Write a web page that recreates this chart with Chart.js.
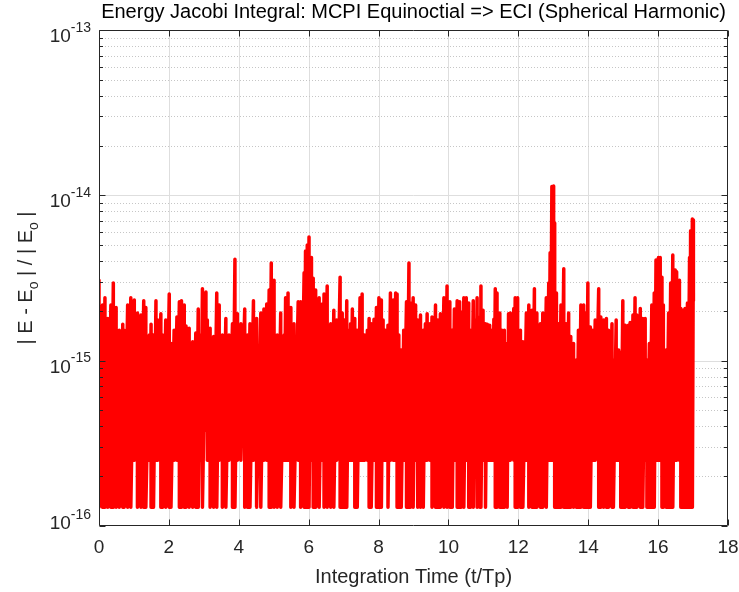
<!DOCTYPE html>
<html><head><meta charset="utf-8">
<script src="https://cdn.jsdelivr.net/npm/chart.js@4/dist/chart.umd.min.js"></script>
<style>html,body{margin:0;padding:0;background:#fff}#wrap{width:739px;height:592px}</style>
</head><body><div id="wrap"><canvas id="c" width="739" height="592"></canvas></div>
<script>
// ---- data ----
const timeTp = [
0.00,0.10,0.17,0.25,0.34,0.41,0.49,0.58,0.68,0.72,
0.82,0.91,1.01,1.10,1.20,1.28,1.34,1.44,1.49,1.56,
1.63,1.68,1.77,1.82,1.91,2.01,2.06,2.15,2.23,2.30,
2.36,2.44,2.49,2.58,2.68,2.77,2.84,2.91,2.96,3.06,
3.10,3.18,3.28,3.37,3.44,3.53,3.63,3.72,3.82,3.89,
3.96,4.06,4.17,4.25,4.32,4.42,4.51,4.63,4.72,4.80,
4.87,4.93,5.01,5.10,5.20,5.30,5.34,5.41,5.49,5.58,
5.70,5.77,5.87,5.91,5.96,6.01,6.08,6.13,6.20,6.30,
6.39,6.44,6.53,6.63,6.72,6.80,6.90,6.96,7.03,7.09,
7.15,7.20,7.25,7.32,7.39,7.47,7.53,7.60,7.68,7.73,
7.79,7.87,7.94,8.01,8.08,8.13,8.20,8.27,8.34,8.42,
8.49,8.53,8.58,8.65,8.72,8.80,8.87,8.91,8.99,9.06,
9.12,9.20,9.28,9.34,9.39,9.47,9.53,9.63,9.70,9.77,
9.87,9.91,9.96,10.04,10.11,10.17,10.25,10.32,10.36,10.44,
10.51,10.58,10.63,10.71,10.77,10.82,10.90,10.93,10.99,11.06,
11.11,11.18,11.25,11.30,11.34,11.39,11.47,11.53,11.60,11.68,
11.72,11.77,11.87,11.91,11.98,12.06,12.13,12.23,12.30,12.39,
12.46,12.53,12.63,12.70,12.80,12.87,12.91,12.96,13.01,13.04,
13.09,13.15,13.22,13.30,13.37,13.44,13.50,13.58,13.66,13.72,
13.79,13.87,13.94,13.99,14.06,14.13,14.20,14.30,14.36,14.44,
14.52,14.58,14.68,14.72,14.80,14.87,14.93,14.99,15.06,15.15,
15.20,15.28,15.34,15.39,15.49,15.56,15.63,15.68,15.75,15.82,
15.89,15.94,16.01,16.06,16.11,16.15,16.23,16.30,16.36,16.42,
16.49,16.53,16.61,16.65,16.70,16.77,16.84,16.90,16.93,16.98,
17.01
];
const peakErr = [
3.07e-15,2.17e-15,2.4e-15,1.8e-15,2.17e-15,2.95e-15,2.1e-15,1.53e-15,1.66e-15,1.53e-15,
2.17e-15,2.4e-15,2.33e-15,1.94e-15,1.89e-15,2.3e-15,2.1e-15,1.43e-15,1.66e-15,1.43e-15,
2.3e-15,1.76e-15,1.92e-15,1.43e-15,1.76e-15,2.53e-15,1.27e-15,1.53e-15,1.84e-15,2.27e-15,
2.3e-15,2.17e-15,1.62e-15,1.57e-15,1.3e-15,1.47e-15,2.05e-15,1.43e-15,2.72e-15,2.6e-15,
1.76e-15,1.57e-15,1.4e-15,2.57e-15,2.17e-15,1.43e-15,1.8e-15,1.43e-15,1.67e-15,4.1e-15,
1.92e-15,1.67e-15,2.05e-15,1.43e-15,1.67e-15,2.3e-15,1.8e-15,1.94e-15,2.05e-15,2.2e-15,
2.68e-15,3.9e-15,3.07e-15,1.43e-15,1.94e-15,1.43e-15,2.4e-15,2.57e-15,2.1e-15,1.67e-15,
2.27e-15,2.27e-15,3.4e-15,4.6e-15,5.0e-15,5.6e-15,4.2e-15,3.15e-15,2.68e-15,2.4e-15,
2.2e-15,2.53e-15,2.83e-15,1.67e-15,2.02e-15,1.76e-15,3.2e-15,1.94e-15,1.76e-15,2.3e-15,
1.53e-15,1.67e-15,2.05e-15,1.8e-15,1.53e-15,2.4e-15,2.53e-15,1.43e-15,1.53e-15,1.8e-15,
1.67e-15,1.78e-15,2.1e-15,2.4e-15,2.33e-15,1.76e-15,1.53e-15,1.64e-15,2.57e-15,2.33e-15,
2.57e-15,2.53e-15,1.43e-15,1.16e-15,1.53e-15,2.27e-15,3.9e-15,2.23e-15,2.4e-15,2.17e-15,
1.76e-15,1.89e-15,1.53e-15,1.67e-15,1.92e-15,1.67e-15,1.84e-15,2.17e-15,1.76e-15,1.92e-15,
2.4e-15,2.33e-15,2.83e-15,2.27e-15,1.53e-15,2.05e-15,2.3e-15,2.27e-15,1.97e-15,2.4e-15,
2.4e-15,2.23e-15,1.53e-15,2.3e-15,1.76e-15,2.4e-15,1.84e-15,2.83e-15,2.02e-15,1.67e-15,
1.66e-15,1.64e-15,1.53e-15,1.78e-15,2.72e-15,2.57e-15,1.94e-15,1.53e-15,1.53e-15,1.27e-15,
1.92e-15,1.94e-15,2.07e-15,2.4e-15,2.4e-15,1.53e-15,1.3e-15,1.94e-15,2.17e-15,2.02e-15,
2.72e-15,1.94e-15,1.67e-15,1.94e-15,2.4e-15,2.95e-15,4.5e-15,1.13e-14,1.14e-14,6.8e-15,
2.57e-15,1.67e-15,2.17e-15,3.6e-15,1.67e-15,1.94e-15,1.4e-15,1.27e-15,1.01e-15,1.53e-15,
2.17e-15,2.17e-15,1.94e-15,2.95e-15,1.6e-15,1.53e-15,1.76e-15,2.72e-15,1.84e-15,1.76e-15,
1.8e-15,1.53e-15,1.67e-15,1.01e-15,1.76e-15,1.16e-15,1.12e-15,2.3e-15,1.64e-15,1.64e-15,
1.7e-15,1.89e-15,2.4e-15,1.89e-15,2.07e-15,1.8e-15,1.8e-15,1.01e-15,1.27e-15,2.17e-15,
2.57e-15,4.06e-15,4.2e-15,4.2e-15,3.2e-15,2.17e-15,1.16e-15,1.94e-15,2.95e-15,4.35e-15,
3.53e-15,3.45e-15,3.07e-15,2.07e-15,2.02e-15,2.07e-15,2.23e-15,4.2e-15,6.1e-15,7.2e-15,
7.1e-15
];
const troughErr = [
1.3e-16,1.3e-16,1.3e-16,1.3e-16,1.3e-16,1.3e-16,1.3e-16,1.3e-16,1.3e-16,1.3e-16,
1.3e-16,1.3e-16,2.5e-16,1.3e-16,1.3e-16,1.3e-16,1.3e-16,2.5e-16,1.3e-16,1.3e-16,
2.5e-16,2.5e-16,1.3e-16,1.3e-16,1.3e-16,1.3e-16,1.3e-16,2.5e-16,2.5e-16,1.3e-16,
1.3e-16,1.3e-16,1.3e-16,1.3e-16,1.3e-16,1.3e-16,1.3e-16,2.5e-16,1.3e-16,3.8e-16,
2.5e-16,1.3e-16,1.3e-16,1.3e-16,2.5e-16,1.3e-16,1.3e-16,2.5e-16,1.3e-16,1.3e-16,
2.5e-16,2.5e-16,1.3e-16,1.3e-16,1.3e-16,2.5e-16,1.3e-16,1.3e-16,2.5e-16,2.5e-16,
1.3e-16,1.3e-16,1.3e-16,1.3e-16,1.3e-16,2.5e-16,2.5e-16,2.5e-16,1.3e-16,1.3e-16,
2.5e-16,1.3e-16,1.3e-16,1.3e-16,1.3e-16,1.3e-16,2.5e-16,1.3e-16,1.3e-16,1.3e-16,
2.5e-16,1.3e-16,1.3e-16,1.3e-16,1.3e-16,2.5e-16,1.3e-16,1.3e-16,1.3e-16,1.3e-16,
2.5e-16,2.5e-16,2.5e-16,1.3e-16,1.3e-16,2.5e-16,2.5e-16,2.5e-16,2.5e-16,1.3e-16,
1.3e-16,2.5e-16,1.3e-16,1.3e-16,1.3e-16,2.5e-16,2.5e-16,1.3e-16,2.5e-16,2.5e-16,
2.5e-16,1.3e-16,1.3e-16,1.3e-16,2.5e-16,1.3e-16,1.3e-16,1.3e-16,1.3e-16,2.5e-16,
1.3e-16,1.3e-16,1.3e-16,2.5e-16,2.5e-16,2.5e-16,1.3e-16,1.3e-16,1.3e-16,1.3e-16,
1.3e-16,2.5e-16,1.3e-16,1.3e-16,1.3e-16,2.5e-16,1.3e-16,1.3e-16,1.3e-16,1.3e-16,
2.5e-16,1.3e-16,1.3e-16,1.3e-16,2.5e-16,1.3e-16,1.3e-16,1.3e-16,2.5e-16,1.3e-16,
2.5e-16,2.5e-16,2.5e-16,2.5e-16,1.3e-16,1.3e-16,1.3e-16,1.3e-16,1.3e-16,1.3e-16,
2.5e-16,2.5e-16,2.5e-16,1.3e-16,1.3e-16,1.3e-16,1.3e-16,2.5e-16,1.3e-16,1.3e-16,
1.3e-16,1.3e-16,1.3e-16,1.3e-16,1.3e-16,2.5e-16,2.5e-16,2.5e-16,2.5e-16,1.3e-16,
1.3e-16,1.3e-16,1.3e-16,1.3e-16,1.3e-16,1.3e-16,1.3e-16,1.3e-16,1.3e-16,1.3e-16,
1.3e-16,1.3e-16,1.3e-16,1.3e-16,1.3e-16,2.5e-16,2.5e-16,1.3e-16,1.3e-16,1.3e-16,
1.3e-16,1.3e-16,1.3e-16,1.3e-16,2.5e-16,2.5e-16,1.3e-16,1.3e-16,1.3e-16,1.3e-16,
1.3e-16,1.3e-16,1.3e-16,1.3e-16,1.3e-16,1.3e-16,2.5e-16,1.3e-16,1.3e-16,1.3e-16,
1.3e-16,2.5e-16,2.5e-16,2.5e-16,1.3e-16,1.3e-16,1.3e-16,1.3e-16,1.3e-16,1.3e-16,
2.5e-16,2.5e-16,2.5e-16,1.3e-16,1.3e-16,1.3e-16,1.3e-16,1.3e-16,1.3e-16,1.3e-16,
2.3e-15
];
const xTickValues = [0, 2, 4, 6, 8, 10, 12, 14, 16, 18];
const yDecadeExponents = [-16, -15, -14, -13];
const yMinorMultipliers = [2, 3, 4, 5, 6, 7, 8, 9];
const chartTitle = 'Energy Jacobi Integral: MCPI Equinoctial => ECI (Spherical Harmonic)';
const xLabel = 'Integration Time (t/Tp)';
const yLabelParts = [['| E - E', false], ['o', true], [' | / | E', false], ['o', true], [' |', false]];

// ---- build the line: each sample goes to its peak and down to its trough ----
const points = [];
for (let i = 0; i < timeTp.length; i++) {
  points.push({x: timeTp[i], y: peakErr[i]});
  points.push({x: timeTp[i], y: troughErr[i]});
}

const ink = '#262626';
const fam = '"Liberation Sans", Arial, Helvetica, sans-serif';

const decor = {
  id: 'decor',
  beforeDatasetsDraw(chart) {
    const {ctx, chartArea: a, scales: {x, y}} = chart;
    ctx.save();
    ctx.lineWidth = 1;
    ctx.strokeStyle = '#dedede';
    ctx.setLineDash([]);
    xTickValues.forEach(v => {
      const px = Math.round(x.getPixelForValue(v)) + 0.5;
      if (px > a.left + 2 && px < a.right - 2) {
        ctx.beginPath(); ctx.moveTo(px, a.top); ctx.lineTo(px, a.bottom); ctx.stroke();
      }
    });
    yDecadeExponents.forEach(e => {
      const py = Math.round(y.getPixelForValue(Math.pow(10, e))) + 0.5;
      if (py > a.top + 2 && py < a.bottom - 2) {
        ctx.beginPath(); ctx.moveTo(a.left, py); ctx.lineTo(a.right, py); ctx.stroke();
      }
    });
    ctx.strokeStyle = '#c6c6c6';
    ctx.setLineDash([1, 2]);
    yDecadeExponents.slice(0, -1).forEach(e => {
      yMinorMultipliers.forEach(m => {
        const py = Math.round(y.getPixelForValue(m * Math.pow(10, e))) + 0.5;
        ctx.beginPath(); ctx.moveTo(a.left, py); ctx.lineTo(a.right, py); ctx.stroke();
      });
    });
    ctx.restore();
  },
  afterDatasetsDraw(chart) {
    const {ctx, chartArea: a, scales: {x, y}} = chart;
    ctx.save();
    ctx.strokeStyle = ink;
    ctx.lineWidth = 1;
    ctx.setLineDash([]);
    const L = a.left + 0.5, R = a.right - 0.5, T = a.top + 0.5, B = a.bottom - 0.5;
    ctx.beginPath();
    ctx.moveTo(L, T); ctx.lineTo(R, T); ctx.lineTo(R, B); ctx.lineTo(L, B); ctx.closePath();
    ctx.stroke();
    xTickValues.forEach(v => {
      const px = Math.round(x.getPixelForValue(v)) + 0.5;
      ctx.beginPath();
      ctx.moveTo(px, B); ctx.lineTo(px, B - 6);
      ctx.moveTo(px, T); ctx.lineTo(px, T + 6);
      ctx.stroke();
    });
    yDecadeExponents.forEach(e => {
      const py = Math.round(y.getPixelForValue(Math.pow(10, e))) + 0.5;
      ctx.beginPath();
      ctx.moveTo(L, py); ctx.lineTo(L + 6, py);
      ctx.moveTo(R, py); ctx.lineTo(R - 6, py);
      ctx.stroke();
    });
    yDecadeExponents.slice(0, -1).forEach(e => {
      yMinorMultipliers.forEach(m => {
        const py = Math.round(y.getPixelForValue(m * Math.pow(10, e))) + 0.5;
        ctx.beginPath();
        ctx.moveTo(L, py); ctx.lineTo(L + 3.5, py);
        ctx.moveTo(R, py); ctx.lineTo(R - 3.5, py);
        ctx.stroke();
      });
    });
    ctx.fillStyle = ink;
    ctx.textAlign = 'right';
    ctx.textBaseline = 'alphabetic';
    yDecadeExponents.forEach((e, i) => {
      let py = y.getPixelForValue(Math.pow(10, e));
      if (i === 0) py -= 9; // lowest label sits above the corner, as in the original
      const sup = String(e);
      ctx.font = '14px ' + fam;
      const sw = ctx.measureText(sup).width;
      const rx = a.left - 8;
      ctx.fillText(sup, rx, py + 1.5);
      ctx.font = '19px ' + fam;
      ctx.fillText('10', rx - sw, py + 12);
    });
    ctx.translate(25, (a.top + a.bottom) / 2);
    ctx.rotate(-Math.PI / 2);
    ctx.textAlign = 'left';
    let total = 0;
    yLabelParts.forEach(([s, sub]) => {
      ctx.font = (sub ? '14px ' : '20px ') + fam;
      total += ctx.measureText(s).width;
    });
    let cx = -total / 2;
    yLabelParts.forEach(([s, sub]) => {
      ctx.font = (sub ? '14px ' : '20px ') + fam;
      ctx.fillText(s, cx, sub ? 13 : 7);
      cx += ctx.measureText(s).width;
    });
    ctx.restore();
  }
};

new Chart(document.getElementById('c'), {
  type: 'line',
  data: {
    datasets: [{
      data: points,
      borderColor: '#ff0000',
      borderWidth: 3.5,
      borderJoinStyle: 'round',
      pointRadius: 0,
      fill: false,
      tension: 0
    }]
  },
  options: {
    responsive: false,
    animation: false,
    devicePixelRatio: 1,
    parsing: false,
    layout: {padding: {left: 99, right: 11, top: 0, bottom: 3}},
    plugins: {
      legend: {display: false},
      tooltip: {enabled: false},
      title: {
        display: true, text: chartTitle, fullSize: false, color: '#000',
        font: {family: fam, size: 20, weight: 'normal'},
        padding: {top: 0, bottom: 6}
      }
    },
    scales: {
      x: {
        type: 'linear', min: 0, max: 18,
        afterBuildTicks: s => { s.ticks = xTickValues.map(v => ({value: v})); },
        afterFit: s => { s.height = 63; s.paddingLeft = 0; s.paddingRight = 0; },
        grid: {display: false, drawTicks: false},
        border: {display: false},
        ticks: {color: ink, font: {family: fam, size: 19}, padding: 10, maxRotation: 0, autoSkip: false},
        title: {display: true, text: xLabel, color: ink, font: {family: fam, size: 20}, padding: {top: 6, bottom: 0}}
      },
      y: {type: 'logarithmic', min: 1e-16, max: 1e-13, display: false}
    }
  },
  plugins: [decor]
});
</script>
</body></html>
